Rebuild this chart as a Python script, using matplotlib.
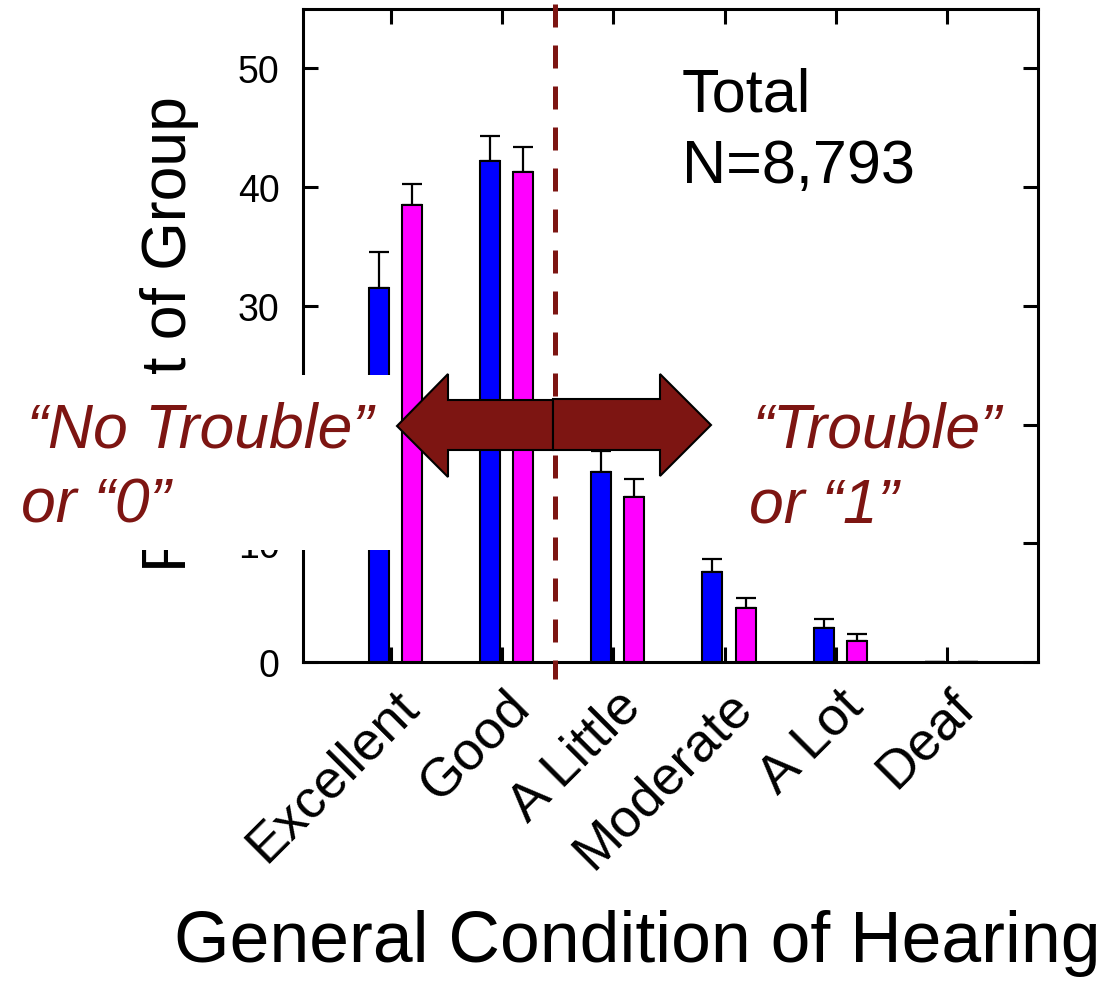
import matplotlib
matplotlib.use("Agg")
import matplotlib.pyplot as plt
import matplotlib.transforms as mtransforms
from matplotlib.patches import Polygon, Rectangle
import numpy as np

plt.rcParams['font.family'] = ['Liberation Sans', 'DejaVu Sans']

# ---- data ----
categories = ["Excellent", "Good", "A Little", "Moderate", "A Lot", "Deaf"]
blue_vals = [31.5, 42.2, 16.0, 7.6, 2.9, 0.0]
blue_err = [3.0, 2.1, 1.8, 1.1, 0.7, 0.0]
magenta_vals = [38.5, 41.3, 13.9, 4.55, 1.8, 0.0]
magenta_err = [1.8, 2.1, 1.5, 0.85, 0.55, 0.0]
y_ticks = [0, 10, 20, 30, 40, 50]
total_label = ["Total", "N=8,793"]
left_label = ["\u201cNo Trouble\u201d", "or \u201c0\u201d"]
right_label = ["\u201cTrouble\u201d", "or \u201c1\u201d"]

W, H = 1105, 987
DARK_RED = '#7D1512'


def fx(px):
    return px / W


def fy(py):
    return 1 - py / H


fig = plt.figure(figsize=(W / 100, H / 100), dpi=100)
ax = fig.add_axes([fx(303), fy(663), fx(1038) - fx(303), fy(10) - fy(663)])

x = np.arange(len(categories))
bar_w = 0.18
ax.bar(x - 0.11, blue_vals, bar_w, color='#0000FF', edgecolor='black',
       linewidth=1.5, zorder=2)
ax.bar(x + 0.188, magenta_vals, bar_w, color='#FF00FF', edgecolor='black',
       linewidth=1.5, zorder=2)
ax.errorbar(x - 0.11, blue_vals, yerr=[np.zeros(len(x)), blue_err], fmt='none',
            ecolor='black', elinewidth=1.6, capsize=7.5, capthick=1.6, zorder=1)
ax.errorbar(x + 0.188, magenta_vals, yerr=[np.zeros(len(x)), magenta_err],
            fmt='none', ecolor='black', elinewidth=1.6, capsize=7.5,
            capthick=1.6, zorder=1)

ax.set_xlim(-0.791, 5.818)
ax.set_ylim(0, 55)
ax.set_yticks(y_ticks)
ax.set_xticks(x)
ax.set_xticklabels(categories, rotation=45, ha='right', va='top',
                   rotation_mode='anchor', fontsize=39)
ax.tick_params(axis='both', direction='in', length=11, width=2.2,
               top=True, right=True)
ax.tick_params(axis='y', labelsize=27, pad=17)
ax.tick_params(axis='x', pad=13)
for sp in ax.spines.values():
    sp.set_linewidth(2.2)

shift = mtransforms.ScaledTranslation(1 / 72, 0, fig.dpi_scale_trans)
for lab in ax.get_xticklabels():
    lab.set_transform(lab.get_transform() + shift)

ax.set_ylabel("Percent of Group", fontsize=45)
ax.yaxis.set_label_coords(-0.1415, 0.504)
ax.set_xlabel("General Condition of Hearing", fontsize=51.5, va='baseline')
ax.xaxis.set_label_coords(0.4544, -0.458)

# dividing line between the two response groups
ax.plot([1.475, 1.475], [55.4, -1.4], color=DARK_RED, lw=3.6,
        linestyle=(0, (4.6, 3.6)), clip_on=False, zorder=3)

# white panel behind the left annotation
fig.add_artist(Rectangle((0, fy(551)), fx(392), fy(376) - fy(551),
                         transform=fig.transFigure, facecolor='white',
                         edgecolor='none', zorder=2))

# double arrow built from two halves
left_arrow = [(397, 427), (448, 375), (448, 401), (553, 401), (553, 451),
              (448, 451), (448, 478)]
right_arrow = [(553, 400), (660, 400), (660, 375), (711, 426), (660, 477),
               (660, 451), (553, 451)]
for pts in (left_arrow, right_arrow):
    fig.add_artist(Polygon([(fx(a), fy(b)) for a, b in pts], closed=True,
                           transform=fig.transFigure, facecolor=DARK_RED,
                           edgecolor='black', linewidth=1.5, zorder=3))

fig.text(fx(27), fy(447), left_label[0], fontsize=45, style='italic',
         color=DARK_RED, ha='left', va='baseline', zorder=4)
fig.text(fx(21), fy(523), left_label[1], fontsize=45, style='italic',
         color=DARK_RED, ha='left', va='baseline', zorder=4)
fig.text(fx(752), fy(448), right_label[0], fontsize=45, style='italic',
         color=DARK_RED, ha='left', va='baseline', zorder=4)
fig.text(fx(749), fy(523), right_label[1], fontsize=45, style='italic',
         color=DARK_RED, ha='left', va='baseline', zorder=4)

fig.text(fx(682), fy(112), total_label[0], fontsize=44, ha='left',
         va='baseline')
fig.text(fx(682), fy(183), total_label[1], fontsize=44, ha='left',
         va='baseline')

fig.savefig("out.png", dpi=100, facecolor='white')
